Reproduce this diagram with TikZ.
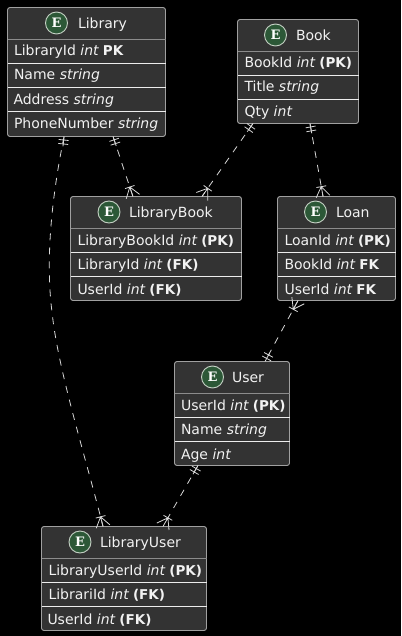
\documentclass[tikz,border=0pt]{standalone}
\usepackage{fontspec}
\setmainfont{DejaVu Sans}
\newfontfamily\eletter{DejaVu Serif}
\usetikzlibrary{calc}
\definecolor{boxfill}{HTML}{333333}
\definecolor{boxedge}{HTML}{A0A0A0}
\definecolor{headsep}{HTML}{8C8C8C}
\definecolor{rowsep}{HTML}{EDEDED}
\definecolor{ink}{HTML}{F2F2F2}
\definecolor{rel}{HTML}{D8D8D8}
\definecolor{circfill}{HTML}{2C5837}
\definecolor{circedge}{HTML}{C4D0C4}
\tikzset{
  entity/.style={draw=boxedge,fill=boxfill,line width=0.9pt,rounded corners=2.5pt,anchor=north west,inner sep=0pt,outer sep=0pt},
  headline/.style={draw=headsep,line width=0.9pt},
  rowline/.style={draw=rowsep,line width=0.9pt},
  rowtext/.style={anchor=base west,inner sep=0pt,outer sep=0pt,text=ink,font=\fontsize{14}{16}\selectfont},
  titletext/.style={anchor=base west,inner sep=0pt,outer sep=0pt,text=ink,font=\fontsize{14}{16}\selectfont},
  ecircle/.style={circle,draw=circedge,fill=circfill,line width=0.9pt,minimum size=22pt,inner sep=0pt,text=white,font=\eletter\bfseries\fontsize{13}{13}\selectfont},
  relline/.style={draw=rel,line width=0.8pt,dash pattern=on 7pt off 7pt},
  relmark/.style={draw=rel,line width=0.8pt},
}
\newcommand{\kw}[1]{\hspace{-0.6pt}{\bfseries\fontsize{13.5}{16}\selectfont #1}}
% name, left, top, width, height, header rule y, circle x, title x, title
\newcommand{\ebox}[9]{%
  \node[entity,minimum width=#4pt,minimum height=#5pt] (#1) at (#2,-#3) {};
  \path[headline] (#1.west |- 0,-#6) -- (#1.east |- 0,-#6);
  \pgfmathsetmacro{\cy}{#6-16.5}
  \node[ecircle] (#1c) at (#7,-\cy) {E};
  \pgfmathsetmacro{\ty}{#6-11}
  \node[titletext] (#1t) at (#8,-\ty) {#9};
}
\newcommand{\hsep}[2]{\path[rowline] (#1.west |- 0,-#2) -- (#1.east |- 0,-#2);}
\newcommand{\rowtxt}[4]{\node[rowtext] (#1) at (#2,-#3) {#4};}
\newcommand{\dbar}[2]{% at #1, pointing towards #2
  \path[relmark] let \p1=($(#2)-(#1)$),\n1={atan2(\y1,\x1)} in
    ([shift={(#1)},rotate=\n1]0,0) -- ([shift={(#1)},rotate=\n1]10,0)
    ([shift={(#1)},rotate=\n1]3.5,-5) -- ([shift={(#1)},rotate=\n1]3.5,5)
    ([shift={(#1)},rotate=\n1]7.5,-5) -- ([shift={(#1)},rotate=\n1]7.5,5);
}
\newcommand{\crow}[2]{% foot on box at #1, pointing away towards #2
  \path[relmark] let \p1=($(#2)-(#1)$),\n1={atan2(\y1,\x1)} in
    ([shift={(#1)},rotate=\n1]0,0) -- ([shift={(#1)},rotate=\n1]10,0)
    ([shift={(#1)},rotate=\n1]0,-7) -- ([shift={(#1)},rotate=\n1]10,0) -- ([shift={(#1)},rotate=\n1]0,7)
    ([shift={(#1)},rotate=\n1]10,-5) -- ([shift={(#1)},rotate=\n1]10,5);
}
\newcommand{\pt}[3]{\coordinate (#1) at ($(#2 west)!#3!(#2 east)$);}
\begin{document}
\begin{tikzpicture}[x=1pt,y=1pt]
\useasboundingbox (0,0) rectangle (401,-636);
\fill[black] (0,0) rectangle (401,-636);

\ebox{lib}{7.5}{7.5}{158}{129}{39.5}{56.5}{78}{Library}
\hsep{lib}{63.5}\hsep{lib}{87.5}\hsep{lib}{111.5}
\rowtxt{libA}{14}{56}{LibraryId \textit{int} \kw{PK}}
\rowtxt{libB}{14}{80}{Name \textit{string}}
\rowtxt{libC}{13.5}{105}{Address \textit{string}}
\rowtxt{libD}{14}{129}{PhoneNumber \textit{string}}

\ebox{book}{237.5}{19.5}{121}{104}{51.5}{275.5}{296}{Book}
\hsep{book}{75.5}\hsep{book}{99.5}
\rowtxt{bookA}{244.5}{68}{BookId \textit{int} \kw{(PK)}}
\rowtxt{bookB}{244.5}{92}{Title \textit{string}}
\rowtxt{bookC}{244.5}{117}{Qty \textit{int}}

\ebox{lb}{70.5}{196.5}{171}{104}{228.5}{109}{129}{LibraryBook}
\hsep{lb}{252.5}\hsep{lb}{276.5}
\rowtxt{lbA}{77.5}{245}{LibraryBookId \textit{int} \kw{(PK)}}
\rowtxt{lbB}{77.5}{269}{LibraryId \textit{int} \kw{(FK)}}
\rowtxt{lbC}{77.5}{294}{UserId \textit{int} \kw{(FK)}}

\ebox{loan}{277.5}{196.5}{118}{104}{228.5}{315.5}{336}{Loan}
\hsep{loan}{252.5}\hsep{loan}{276.5}
\rowtxt{loanA}{284.5}{245}{LoanId \textit{int} \kw{(PK)}}
\rowtxt{loanB}{284.5}{269}{BookId \textit{int} \kw{FK}}
\rowtxt{loanC}{284.5}{294}{UserId \textit{int} \kw{FK}}

\ebox{user}{174.5}{361.5}{115}{104}{393.5}{212.5}{232}{User}
\hsep{user}{417.5}\hsep{user}{441.5}
\rowtxt{userA}{181}{410}{UserId \textit{int} \kw{(PK)}}
\rowtxt{userB}{181}{434}{Name \textit{string}}
\rowtxt{userC}{181}{459}{Age \textit{int}}

\ebox{lu}{41.5}{526.5}{165}{104}{558.5}{80}{100}{LibraryUser}
\hsep{lu}{582.5}\hsep{lu}{606.5}
\rowtxt{luA}{48.5}{575}{LibraryUserId \textit{int} \kw{(PK)}}
\rowtxt{luB}{48.5}{599}{LibrariId \textit{int} \kw{(FK)}}
\rowtxt{luC}{47.5}{624}{UserId \textit{int} \kw{(FK)}}

% connector end points on the box edges
\pt{a1}{lib.south}{0.668}\pt{a2}{lb.north}{0.365}
\pt{b1}{lib.south}{0.358}\pt{b2}{lu.north}{0.373}
\pt{c1}{book.south}{0.128}\pt{c2}{lb.north}{0.769}
\pt{d1}{book.south}{0.599}\pt{d2}{loan.north}{0.386}
\pt{e1}{loan.south}{0.174}\pt{e2}{user.north}{0.787}
\pt{f1}{user.south}{0.204}\pt{f2}{lu.north}{0.736}

\path[relline] (a1) -- (a2);
\path[relline] (c1) -- (c2);
\path[relline] (d1) -- (d2);
\path[relline] (e1) -- (e2);
\path[relline] (f1) -- (f2);
\path[relline] (b1) .. controls (50,-205) and (46,-265) .. (52,-312) .. controls (58,-370) and (85,-455) .. (b2);

\dbar{a1}{a2}\crow{a2}{a1}
\dbar{c1}{c2}\crow{c2}{c1}
\dbar{d1}{d2}\crow{d2}{d1}
\crow{e1}{e2}\dbar{e2}{e1}
\dbar{f1}{f2}\crow{f2}{f1}
\coordinate (b1t) at (61.5,-160);
\coordinate (b2t) at (95,-495);
\dbar{b1}{b1t}\crow{b2}{b2t}
\end{tikzpicture}
\end{document}
